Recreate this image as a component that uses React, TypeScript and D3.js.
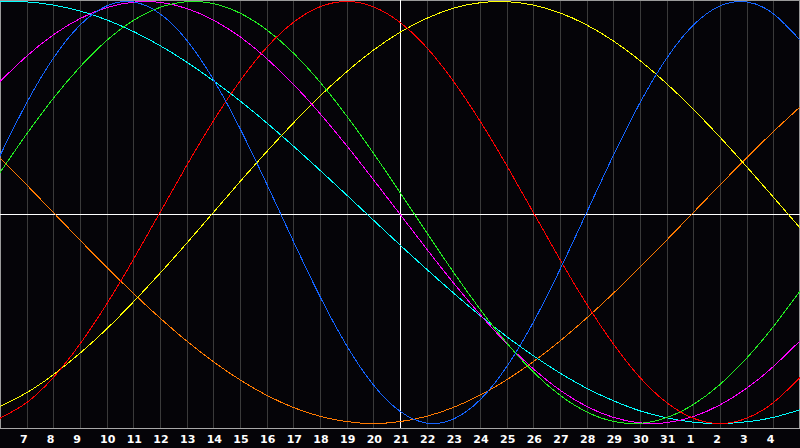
import React from "react";
import * as d3 from "d3";

// Day labels for each sampled day (index 0..30)
const days: number[] = [6, 7, 8, 9, 10, 11, 12, 13, 14, 15, 16, 17, 18, 19, 20, 21, 22, 23, 24, 25, 26, 27, 28, 29, 30, 31, 1, 2, 3, 4, 5];

// Series values per day (-1 .. 1)
const physical: number[] = [0.270, 0.520, 0.731, 0.888, 0.979, 0.998, 0.942, 0.817, 0.631, 0.398, 0.136, -0.136, -0.398, -0.631, -0.817, -0.942, -0.998, -0.979, -0.888, -0.731, -0.520, -0.270, 0, 0.270, 0.520, 0.731, 0.888, 0.979, 0.998, 0.942, 0.817];
const emotional: number[] = [-0.975, -0.901, -0.782, -0.623, -0.434, -0.223, 0, 0.223, 0.434, 0.623, 0.782, 0.901, 0.975, 1, 0.975, 0.901, 0.782, 0.623, 0.434, 0.223, 0, -0.223, -0.434, -0.623, -0.782, -0.901, -0.975, -1, -0.975, -0.901, -0.782];
const intellectual: number[] = [0.189, 0.372, 0.541, 0.690, 0.815, 0.910, 0.972, 0.999, 0.990, 0.945, 0.866, 0.756, 0.618, 0.458, 0.282, 0.095, -0.095, -0.282, -0.458, -0.618, -0.756, -0.866, -0.945, -0.990, -0.999, -0.972, -0.910, -0.815, -0.690, -0.541, -0.372];
const intuitive: number[] = [0.621, 0.741, 0.842, 0.919, 0.971, 0.997, 0.996, 0.967, 0.912, 0.833, 0.730, 0.608, 0.469, 0.317, 0.156, -0.008, -0.173, -0.333, -0.483, -0.621, -0.741, -0.842, -0.919, -0.971, -0.997, -0.996, -0.967, -0.912, -0.833, -0.730, -0.608];
const aesthetic: number[] = [-0.920, -0.854, -0.769, -0.667, -0.552, -0.424, -0.288, -0.146, 0, 0.146, 0.288, 0.424, 0.552, 0.667, 0.769, 0.854, 0.920, 0.968, 0.994, 0.999, 0.983, 0.946, 0.889, 0.813, 0.720, 0.611, 0.489, 0.357, 0.217, 0.073, -0.073];
const awareness: number[] = [0.259, 0.131, 0, -0.131, -0.259, -0.383, -0.5, -0.609, -0.707, -0.793, -0.866, -0.924, -0.966, -0.991, -1, -0.991, -0.966, -0.924, -0.866, -0.793, -0.707, -0.609, -0.5, -0.383, -0.259, -0.131, 0, 0.131, 0.259, 0.383, 0.5];
const spiritual: number[] = [0.999, 0.998, 0.983, 0.955, 0.913, 0.858, 0.791, 0.713, 0.625, 0.529, 0.425, 0.315, 0.200, 0.083, -0.036, -0.154, -0.269, -0.381, -0.488, -0.588, -0.679, -0.761, -0.833, -0.892, -0.940, -0.973, -0.994, -1, -0.992, -0.971, -0.935];

const seriesList: number[][] = [awareness, spiritual, aesthetic, intuitive, intellectual, emotional, physical];
const seriesColors: string[] = ["#ff7a00", "#00ffff", "#ffff00", "#ff00ff", "#22ee22", "#ff0000", "#1464ff"];

const W = 800;
const H = 448;
const PLOT_BOTTOM = 428;

export default function App() {
  const x = d3.scaleLinear().domain([0, days.length - 1]).range([0, W]);
  const y = d3.scaleLinear().domain([-1, 1]).range([423.5, 1.5]);
  const line = d3
    .line<number>()
    .x((_, i) => x(i))
    .y((v) => y(v))
    .curve(d3.curveNatural);

  const inner = d3.range(1, days.length - 1);
  const centerIdx = 15;

  return (
    <svg
      width={W}
      height={H}
      style={{ position: "fixed", left: 0, top: 0, display: "block", background: "#050408" }}
    >
      <defs>
        <clipPath id="plot">
          <rect x={0} y={0} width={W} height={PLOT_BOTTOM} />
        </clipPath>
      </defs>
      <rect x={0} y={0} width={W} height={H} fill="#050408" />
      {/* vertical day grid */}
      {inner.map((i) => (
        <line
          key={"g" + i}
          x1={Math.round(x(i)) + 0.5}
          x2={Math.round(x(i)) + 0.5}
          y1={0}
          y2={PLOT_BOTTOM}
          stroke="#3a3a3a"
          strokeWidth={1}
          shapeRendering="crispEdges"
        />
      ))}
      {/* frame */}
      <line x1={0} x2={W} y1={0.5} y2={0.5} stroke="#9a9a9a" shapeRendering="crispEdges" />
      <line x1={0.5} x2={0.5} y1={0} y2={PLOT_BOTTOM} stroke="#9a9a9a" shapeRendering="crispEdges" />
      <line x1={W - 0.5} x2={W - 0.5} y1={0} y2={PLOT_BOTTOM} stroke="#9a9a9a" shapeRendering="crispEdges" />
      <line x1={0} x2={W} y1={PLOT_BOTTOM + 0.5} y2={PLOT_BOTTOM + 0.5} stroke="#a8a8a8" shapeRendering="crispEdges" />
      {/* center lines */}
      <line x1={0} x2={W} y1={214.5} y2={214.5} stroke="#ffffff" shapeRendering="crispEdges" />
      <line
        x1={Math.round(x(centerIdx)) + 0.5}
        x2={Math.round(x(centerIdx)) + 0.5}
        y1={0}
        y2={PLOT_BOTTOM}
        stroke="#ffffff"
        shapeRendering="crispEdges"
      />
      {/* curves */}
      <g clipPath="url(#plot)">
        {seriesList.map((s, k) => (
          <path
            key={"s" + k}
            d={line(s) || ""}
            fill="none"
            stroke={seriesColors[k]}
            strokeWidth={1}
            shapeRendering="crispEdges"
          />
        ))}
      </g>
      {/* day labels */}
      {inner.map((i) => (
        <text
          key={"t" + i}
          x={x(i) - 6.67}
          y={443}
          fill="#ffffff"
          fontFamily="DejaVu Sans, sans-serif"
          fontWeight="bold"
          fontSize={11}
        >
          {days[i]}
        </text>
      ))}
    </svg>
  );
}
